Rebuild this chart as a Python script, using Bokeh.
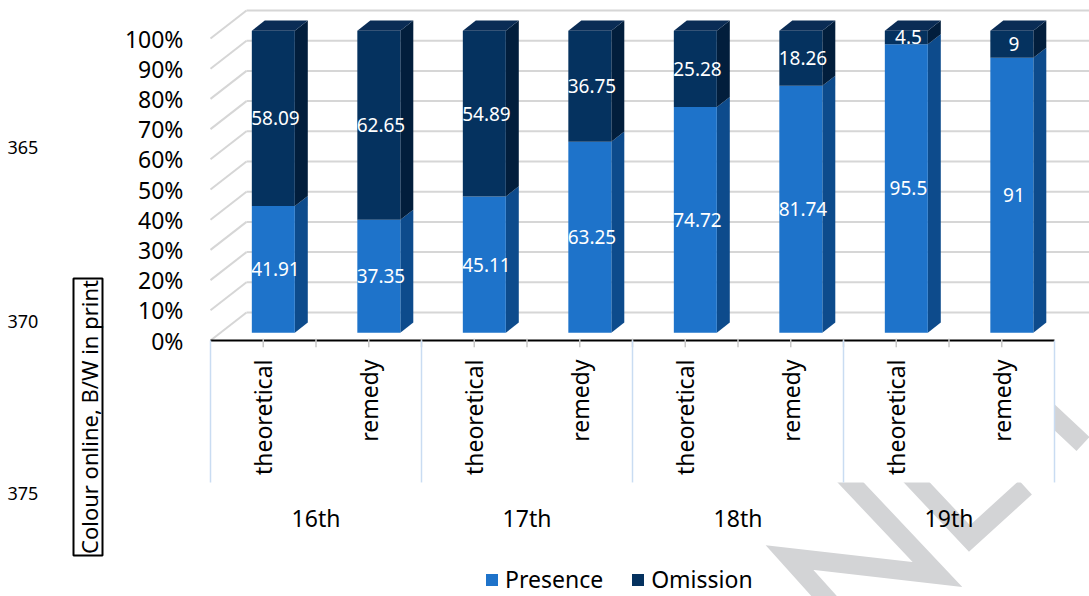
import math
import numpy as np
from bokeh.plotting import figure
from bokeh.layouts import row
from bokeh.models import (ColumnDataSource, Range1d, LinearAxis, FixedTicker,
                          PrintfTickFormatter, Legend, LegendItem)
from bokeh.core.properties import value
from bokeh.embed import file_html
from bokeh.resources import INLINE

# ---- data -------------------------------------------------------------
centuries = ["16th", "17th", "18th", "19th"]
kinds = ["theoretical", "remedy"]
presence = [41.91, 37.35, 45.11, 63.25, 74.72, 81.74, 95.5, 91]
omission = [58.09, 62.65, 54.89, 36.75, 25.28, 18.26, 4.5, 9]
y_ticks = [0, 10, 20, 30, 40, 50, 60, 70, 80, 90, 100]
line_numbers = ["365", "370", "375"]

# ---- page geometry (pixels) -------------------------------------------
W, H = 1089, 596
MARGIN_W = 120                  # page margin strip on the left
FRAME_L = 190                   # left edge of the chart frame
X0PX, X1PX = 210, 1054          # front edge of the floor
Y0PX, Y100PX = 340, 38          # 0% and 100% on the front plane
UNIT = (X1PX - X0PX) / 8.0      # px per category
YPU = (Y0PX - Y100PX) / 100.0   # px per percent

# pseudo-3D depth offsets (category units / percent units)
DX = 36 / UNIT
DY = 28 / YPU
D0, D1 = 0.28, 0.64             # bar depth span
BAR_W = 43 / UNIT

FONT = "Noto Sans"
C_PRES, C_PRES_SIDE = "#1E73CA", "#0D4B8C"
C_OMIS, C_OMIS_SIDE, C_OMIS_TOP = "#05325F", "#021E3C", "#0A2C55"
GRID = "#D6D6D6"
WATER = "#D3D4D6"

# ---- left page margin: line numbers and colour note ---------------------
m = figure(width=MARGIN_W, height=H, output_backend="svg", toolbar_location=None,
           x_axis_type=None, y_axis_type=None,
           x_range=Range1d(0, MARGIN_W), y_range=Range1d(H, 0),
           min_border_left=0, min_border_right=0,
           min_border_top=0, min_border_bottom=0)
m.outline_line_color = None
m.background_fill_color = "white"
m.border_fill_color = "white"
m.grid.visible = False
m.text(x=[7] * 3, y=[147, 321, 493], text=line_numbers, text_color="black",
       text_font=value(FONT), text_font_size="18px",
       text_align="left", text_baseline="middle")
m.rect(x=[87.5], y=[416.5], width=[29], height=[277], fill_color=None,
       line_color="black", line_width=2)
m.text(x=[88], y=[416.5], text=["Colour online, B/W in print"],
       angle=math.pi / 2, text_color="black", text_font=value(FONT),
       text_font_size="22px", text_align="center", text_baseline="middle")

# ---- chart ----------------------------------------------------------------
p = figure(width=W - MARGIN_W, height=H, output_backend="svg",
           toolbar_location=None, x_axis_type=None, y_axis_type=None,
           x_range=Range1d((FRAME_L - X0PX) / UNIT, (W - X0PX) / UNIT),
           y_range=Range1d(-(H - Y0PX) / YPU, Y0PX / YPU),
           min_border_left=FRAME_L - MARGIN_W, min_border_right=0,
           min_border_top=0, min_border_bottom=0)
p.outline_line_color = None
p.background_fill_color = "white"
p.border_fill_color = "white"

# pixel-space ranges for page decoration
p.extra_x_ranges = {"px": Range1d(FRAME_L, W)}
p.extra_y_ranges = {"px": Range1d(H, 0)}

# faint diagonal watermark strokes, partly hidden by the chart area
wm_xs = [[833, 789, 937, 835], [905, 969, 1025], [1024, 1082.5]]
wm_ys = [[606, 557, 574, 466], [470, 538, 487], [388.6, 443.5]]
p.multi_line(xs=wm_xs, ys=wm_ys, line_color=WATER, line_width=19,
             line_join="miter", line_cap="butt",
             x_range_name="px", y_range_name="px")
p.quad(left=[FRAME_L], right=[X1PX], top=[0], bottom=[482],
       fill_color="white", line_color=None,
       x_range_name="px", y_range_name="px")

# walls and gridlines
n = len(presence)
p.multi_line(xs=[[DX, n + DX + 0.5] for v in y_ticks],
             ys=[[v + DY, v + DY] for v in y_ticks],
             line_color=GRID, line_width=2)
p.multi_line(xs=[[0, DX] for v in y_ticks],
             ys=[[v, v + DY] for v in y_ticks],
             line_color=GRID, line_width=2)

# floor front edge and category separators
p.segment(x0=[0], y0=[0], x1=[n], y1=[0], line_color="black", line_width=2)
half_ticks = np.arange(1, 2 * n) * 0.5
p.segment(x0=half_ticks, y0=[0.6] * len(half_ticks), x1=half_ticks,
          y1=[-2.2] * len(half_ticks), line_color="#C8C8C8", line_width=1.5)
sep = np.arange(0, n + 1, 2)
p.segment(x0=sep, y0=[0] * len(sep), x1=sep, y1=[-47] * len(sep),
          line_color="#C9DCF2", line_width=1.5)

# stacked 3D bars
pres = np.array(presence, dtype=float)
omis = np.array(omission, dtype=float)
tot = pres + omis
pres_pct = pres / tot * 100
top_pct = (pres + omis) / tot * 100
cx = np.arange(n) + 0.5
xl0 = cx - BAR_W / 2 + D0 * DX
xr0 = cx + BAR_W / 2 + D0 * DX
xl1 = cx - BAR_W / 2 + D1 * DX
xr1 = cx + BAR_W / 2 + D1 * DX


def side_faces(lo, hi):
    xs = [[a, b, b, a] for a, b in zip(xr0, xr1)]
    ys = [[l + D0 * DY, l + D1 * DY, h + D1 * DY, h + D0 * DY]
          for l, h in zip(lo, hi)]
    return xs, ys


zeros = np.zeros(n)
sx, sy = side_faces(zeros, pres_pct)
p.patches(xs=sx, ys=sy, fill_color=C_PRES_SIDE, line_color=None)
sx, sy = side_faces(pres_pct, top_pct)
p.patches(xs=sx, ys=sy, fill_color=C_OMIS_SIDE, line_color=None)
p.patches(xs=[[a, b, d, c] for a, b, c, d in zip(xl0, xr0, xl1, xr1)],
          ys=[[t + D0 * DY, t + D0 * DY, t + D1 * DY, t + D1 * DY] for t in top_pct],
          fill_color=C_OMIS_TOP, line_color=None)

src_p = ColumnDataSource(dict(left=xl0, right=xr0, bottom=zeros + D0 * DY,
                              top=pres_pct + D0 * DY))
src_o = ColumnDataSource(dict(left=xl0, right=xr0, bottom=pres_pct + D0 * DY,
                              top=top_pct + D0 * DY))
r_pres = p.quad(source=src_p, left="left", right="right", bottom="bottom",
                top="top", fill_color=C_PRES, line_color=None)
r_omis = p.quad(source=src_o, left="left", right="right", bottom="bottom",
                top="top", fill_color=C_OMIS, line_color=None)

# value labels
lab_x = list(xl0 + BAR_W / 2 + 0.02) * 2
lab_y = list(pres_pct / 2 + D0 * DY) + list((pres_pct + top_pct) / 2 + D0 * DY)
lab_t = [f"{v:g}" for v in presence] + [f"{v:g}" for v in omission]
p.text(x=lab_x, y=lab_y, text=lab_t, text_color="white",
       text_font=value(FONT), text_font_size="19px",
       text_align="center", text_baseline="middle")

# category axis (two levels)
cat_names = [k for c in centuries for k in kinds]
p.text(x=cx, y=[-(359 - Y0PX) / YPU] * n, text=cat_names, angle=math.pi / 2,
       text_color="black", text_font=value(FONT), text_font_size="23px",
       text_align="right", text_baseline="middle")
p.text(x=np.arange(len(centuries)) * 2 + 1.0,
       y=[-(517 - Y0PX) / YPU] * len(centuries), text=centuries,
       text_color="black", text_font=value(FONT), text_font_size="23px",
       text_align="center", text_baseline="middle")

# percent axis
yaxis = LinearAxis(ticker=FixedTicker(ticks=y_ticks),
                   formatter=PrintfTickFormatter(format="%d%%"))
yaxis.axis_line_color = None
yaxis.major_tick_line_color = None
yaxis.minor_tick_line_color = None
yaxis.major_tick_out = 0
yaxis.major_tick_in = 0
yaxis.major_label_standoff = 7
yaxis.major_label_text_font = FONT
yaxis.major_label_text_font_size = "23px"
yaxis.major_label_text_color = "black"
p.add_layout(yaxis, "left")

# legend
legend = Legend(items=[LegendItem(label="Presence", renderers=[r_pres]),
                       LegendItem(label="Omission", renderers=[r_omis])],
                orientation="horizontal", location=(294, 1),
                label_text_font=FONT, label_text_font_size="23px",
                label_text_color="black", glyph_width=15, glyph_height=15,
                label_standoff=6, spacing=27, padding=0, margin=0,
                border_line_color=None, background_fill_alpha=0)
p.add_layout(legend)

layout = row(m, p, spacing=0)
open("out.html", "w").write(file_html(layout, INLINE))
